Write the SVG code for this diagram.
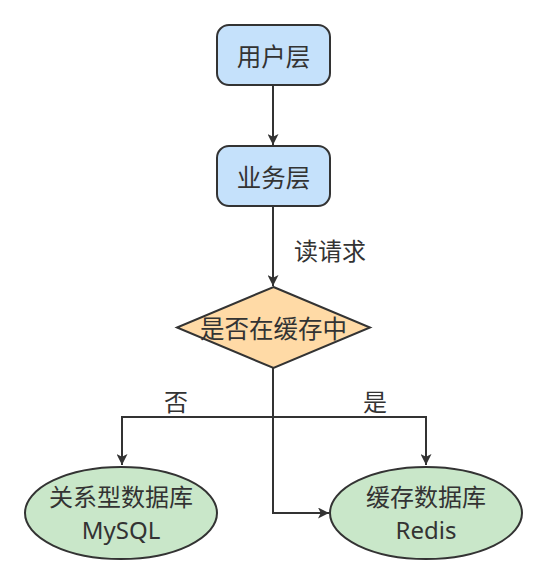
<svg xmlns="http://www.w3.org/2000/svg" width="547" height="586" viewBox="0 0 547 586">
<style>
.box{fill:#c5e1fb;stroke:#333;stroke-width:2}
.dia{fill:#ffdaa6;stroke:#333;stroke-width:2}
.ell{fill:#c9e7c9;stroke:#333;stroke-width:2}
.t{font-family:"Noto Sans CJK SC","Noto Sans",sans-serif;font-size:24.5px;fill:#333;text-anchor:middle;dominant-baseline:central}
.e{font-family:"Noto Sans CJK SC","Noto Sans",sans-serif;font-size:24px;fill:#333;text-anchor:middle}
.m{font-family:"Noto Sans",sans-serif;font-size:24px;fill:#333;text-anchor:middle}
.l{font-family:"Noto Sans CJK SC","Noto Sans",sans-serif;font-size:24px;fill:#333;text-anchor:middle;dominant-baseline:central}
.c{fill:none;stroke:#333;stroke-width:2}
</style>
<defs>
<marker id="a" viewBox="0 0 10 10" refX="10" refY="5" markerWidth="5.5" markerHeight="5.5" orient="auto" markerUnits="strokeWidth">
<path d="M0,0 L10,5 L0,10 L2.5,5 Z" fill="#333"/>
</marker>
</defs>
<rect width="547" height="586" fill="#fff"/>
<g id="connectors">
<path class="c" d="M273,85 L273,145" marker-end="url(#a)"/>
<path class="c" d="M273,206 L273,286" marker-end="url(#a)"/>
<path class="c" d="M273,368 L273,417 L122,417 L122,465" marker-end="url(#a)"/>
<path class="c" d="M273,417 L426,417 L426,465" marker-end="url(#a)"/>
<path class="c" d="M273,417 L273,513 L329,513" marker-end="url(#a)"/>
<text class="l" x="330" y="249">读请求</text>
<text class="l" x="176" y="400">否</text>
<text class="l" x="375" y="400">是</text>
</g>
<g id="user">
<rect class="box" x="217" y="25" width="113" height="60" rx="12"/>
<text class="t" x="273.5" y="55">用户层</text>
</g>
<g id="biz">
<rect class="box" x="217" y="146" width="113" height="60" rx="12"/>
<text class="t" x="273.5" y="176">业务层</text>
</g>
<g id="cache">
<polygon class="dia" points="273.5,287 370,327.5 273.5,368 177,327.5"/>
<text class="t" x="273.5" y="327">是否在缓存中</text>
</g>
<g id="mysql">
<ellipse class="ell" cx="121" cy="513" rx="96" ry="46"/>
<text class="e" x="121" y="506">关系型数据库</text>
<text class="m" x="121" y="539">MySQL</text>
</g>
<g id="redis">
<ellipse class="ell" cx="426" cy="513" rx="96" ry="46"/>
<text class="e" x="426" y="506">缓存数据库</text>
<text class="m" x="426" y="539">Redis</text>
</g>
</svg>
